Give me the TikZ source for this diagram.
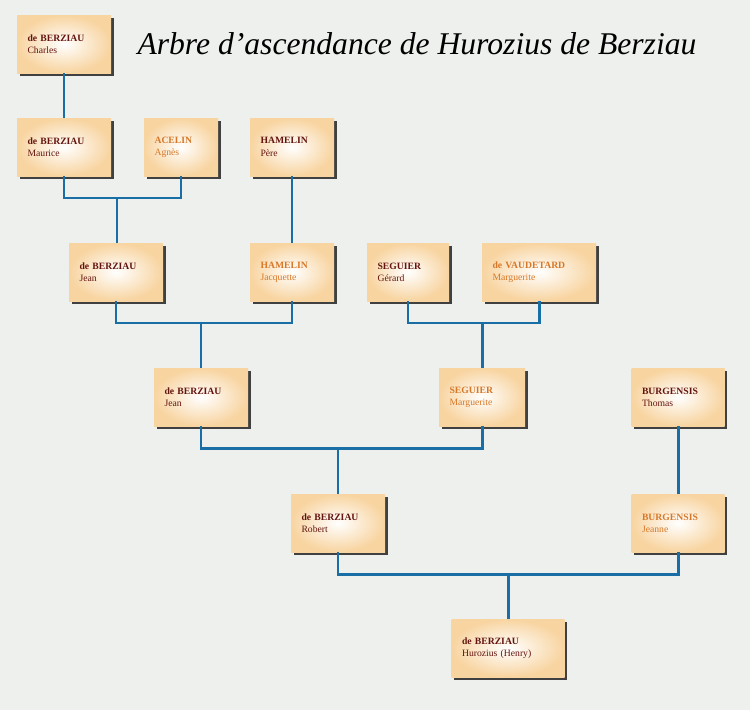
\documentclass[tikz,border=0pt]{standalone}
\usepackage{fontspec}
\setmainfont{Liberation Serif}
\usetikzlibrary{shadows}
\definecolor{bgcol}{RGB}{238,240,238}
\definecolor{peach}{RGB}{248,212,160}
\definecolor{male}{RGB}{100,20,15}
\definecolor{female}{RGB}{215,120,40}
\definecolor{link}{RGB}{25,110,165}
\tikzset{
  person/.style={draw=none, inner color=white, outer color=peach,
    drop shadow={shadow xshift=1.6pt, shadow yshift=-1.6pt, fill=black!75, opacity=1},
    minimum height=58*0.02cm, align=left, inner xsep=6pt,
    font=\fontsize{5.5}{7}\selectfont, anchor=center},
  man/.style={person, text=male},
  woman/.style={person, text=female},
  link/.style={draw=link, line width=1.7pt},
}
% node box with left aligned text
\newcommand{\pers}[6]{\node[#1, minimum width=#4*0.02cm, text width=#4*0.02cm-12pt] (#2) at (#3) {\textbf{#5}\\#6};}
\begin{document}
\begin{tikzpicture}[x=0.02cm, y=-0.02cm]
\fill[bgcol] (0,0) rectangle (750,710);
\useasboundingbox (0,0) rectangle (750,710);
\node[font=\itshape\fontsize{18}{20}\selectfont] (title) at (417,44) {Arbre d'ascendance de Hurozius de Berziau};

\pers{man}{charles}{64,44}{94}{de BERZIAU}{Charles}
\pers{man}{maurice}{64,147}{94}{de BERZIAU}{Maurice}
\pers{woman}{agnes}{181,147}{74}{ACELIN}{Agnès}
\pers{man}{pere}{292,147}{84}{HAMELIN}{Père}
\pers{man}{jean1}{116,272}{94}{de BERZIAU}{Jean}
\pers{woman}{jacquette}{292,272}{84}{HAMELIN}{Jacquette}
\pers{man}{gerard}{408,272}{82}{SEGUIER}{Gérard}
\pers{woman}{margv}{539,272}{114}{de VAUDETARD}{Marguerite}
\pers{man}{jean2}{201,397}{94}{de BERZIAU}{Jean}
\pers{woman}{margs}{482,397}{86}{SEGUIER}{Marguerite}
\pers{man}{thomas}{678,397}{93}{BURGENSIS}{Thomas}
\pers{man}{robert}{338,523}{94}{de BERZIAU}{Robert}
\pers{woman}{jeanne}{678,523}{93}{BURGENSIS}{Jeanne}
\pers{man}{henry}{508,648}{113}{de BERZIAU}{Hurozius (Henry)}

\draw[link] (charles.south) -- (maurice.north);
\draw[link] (maurice.south) |- (117,198) -| (agnes.south);
\draw[link] (117,198) -- (117,198 |- jean1.north);
\draw[link] (pere.south) -- (jacquette.north);
\draw[link] (jean1.south) |- (201,323) -| (jacquette.south);
\draw[link] (201,323) -- (jean2.north);
\draw[link] (gerard.south) |- (482,323) -| (margv.south);
\draw[link] (482,323) -- (margs.north);
\draw[link] (jean2.south) |- (338,448) -| (margs.south);
\draw[link] (338,448) -- (robert.north);
\draw[link] (thomas.south) -- (jeanne.north);
\draw[link] (robert.south) |- (508,574) -| (jeanne.south);
\draw[link] (508,574) -- (henry.north);
\end{tikzpicture}
\end{document}
